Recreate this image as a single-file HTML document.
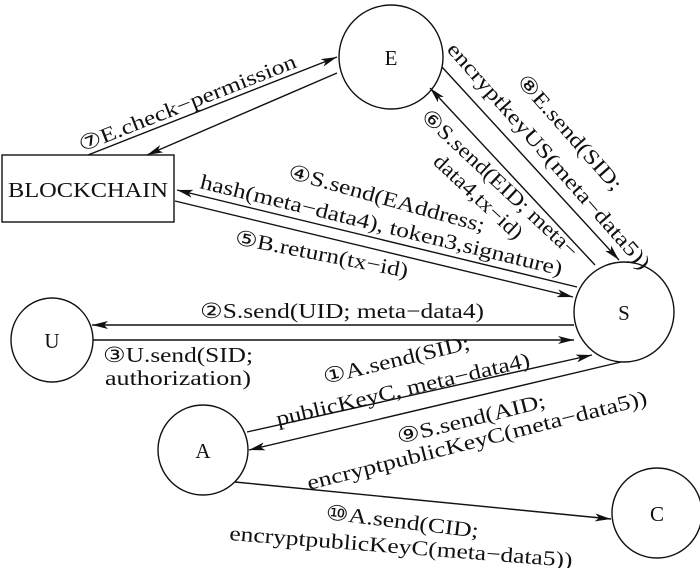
<!DOCTYPE html>
<html><head><meta charset="utf-8"><style>
html,body{margin:0;padding:0;background:#fff;}
svg{display:block;}
text{font-family:"Liberation Serif","DejaVu Serif",serif;font-size:21px;fill:#111;}
</style></head><body>
<svg width="700" height="568" viewBox="0 0 700 568" xmlns="http://www.w3.org/2000/svg">
<defs>
<marker id="a" viewBox="0 0 16 8" refX="16" refY="4" markerWidth="16" markerHeight="8" markerUnits="userSpaceOnUse" orient="auto">
<path d="M0,0 L16,4 L0,8 L4,4 Z" fill="#111"/>
</marker>
</defs>
<g stroke="#111" stroke-width="1.4" fill="none">
<ellipse cx="391" cy="57" rx="52" ry="52" fill="#fff"/>
<ellipse cx="624" cy="312" rx="50" ry="50" fill="#fff"/>
<ellipse cx="52" cy="340" rx="41" ry="42" fill="#fff"/>
<ellipse cx="203" cy="450" rx="45" ry="45" fill="#fff"/>
<ellipse cx="657" cy="513" rx="45" ry="45" fill="#fff"/>
<rect x="2" y="155" width="172" height="67" fill="#fff"/>
<!-- 7 -->
<line x1="88" y1="155" x2="337" y2="57" marker-end="url(#a)"/>
<line x1="337" y1="73" x2="147" y2="155" marker-end="url(#a)"/>
<!-- 4 -->
<line x1="577" y1="287" x2="177" y2="190" marker-end="url(#a)"/>
<!-- 5 -->
<line x1="175" y1="201" x2="573" y2="297" marker-end="url(#a)"/>
<!-- 6 -->
<line x1="595" y1="265" x2="430" y2="88" marker-end="url(#a)"/>
<!-- 8 -->
<line x1="442" y1="67" x2="619" y2="260" marker-end="url(#a)"/>
<!-- 2 -->
<line x1="574" y1="325" x2="92" y2="325" marker-end="url(#a)"/>
<!-- 3 -->
<line x1="93" y1="340" x2="574" y2="340" marker-end="url(#a)"/>
<!-- 1 -->
<line x1="247" y1="432" x2="592" y2="355" marker-end="url(#a)"/>
<!-- 9 -->
<line x1="621" y1="362" x2="249" y2="450" marker-end="url(#a)"/>
<!-- 10 -->
<line x1="235" y1="482" x2="611" y2="519" marker-end="url(#a)"/>
</g>
<text x="391" y="65" text-anchor="middle">E</text>
<text x="624" y="320" text-anchor="middle">S</text>
<text x="52" y="348" text-anchor="middle">U</text>
<text x="203" y="458" text-anchor="middle">A</text>
<text x="657" y="521" text-anchor="middle">C</text>
<text x="8" y="197" textLength="160" lengthAdjust="spacingAndGlyphs">BLOCKCHAIN</text>

<text transform="translate(82,152) rotate(-21.5)" textLength="232" lengthAdjust="spacingAndGlyphs">⑦E.check−permission</text>
<text transform="translate(287,178) rotate(15.5)" textLength="203" lengthAdjust="spacingAndGlyphs">④S.send(EAddress;</text>
<text transform="translate(199,188) rotate(13.6)" textLength="372" lengthAdjust="spacingAndGlyphs">hash(meta−data4), token3,signature)</text>
<text transform="translate(234,244) rotate(11)" textLength="176" lengthAdjust="spacingAndGlyphs">⑤B.return(tx−id)</text>
<text transform="translate(420,118) rotate(43)" textLength="206" lengthAdjust="spacingAndGlyphs">⑥S.send(EID; meta−</text>
<text transform="translate(432,163) rotate(43)" textLength="114" lengthAdjust="spacingAndGlyphs">data4,tx−id)</text>
<text transform="translate(516,82) rotate(48.5)" textLength="147" lengthAdjust="spacingAndGlyphs">⑧E.send(SID;</text>
<text transform="translate(446,50) rotate(48.5)" textLength="295" lengthAdjust="spacingAndGlyphs">encryptkeyUS(meta−data5))</text>
<text x="200" y="318" textLength="284" lengthAdjust="spacingAndGlyphs">②S.send(UID; meta−data4)</text>
<text x="103" y="362" textLength="150" lengthAdjust="spacingAndGlyphs">③U.send(SID;</text>
<text x="105" y="385" textLength="146" lengthAdjust="spacingAndGlyphs">authorization)</text>
<text transform="translate(325,384) rotate(-13.5)" textLength="150" lengthAdjust="spacingAndGlyphs">①A.send(SID;</text>
<text transform="translate(278,426) rotate(-13.3)" textLength="260" lengthAdjust="spacingAndGlyphs">publicKeyC, meta−data4)</text>
<text transform="translate(399,444) rotate(-14)" textLength="152" lengthAdjust="spacingAndGlyphs">⑨S.send(AID;</text>
<text transform="translate(309,490) rotate(-14.2)" textLength="350" lengthAdjust="spacingAndGlyphs">encryptpublicKeyC(meta−data5))</text>
<text transform="translate(325,519) rotate(7)" textLength="154" lengthAdjust="spacingAndGlyphs">⑩A.send(CID;</text>
<text transform="translate(229,540) rotate(4.5)" textLength="344" lengthAdjust="spacingAndGlyphs">encryptpublicKeyC(meta−data5))</text>
</svg>
</body></html>
